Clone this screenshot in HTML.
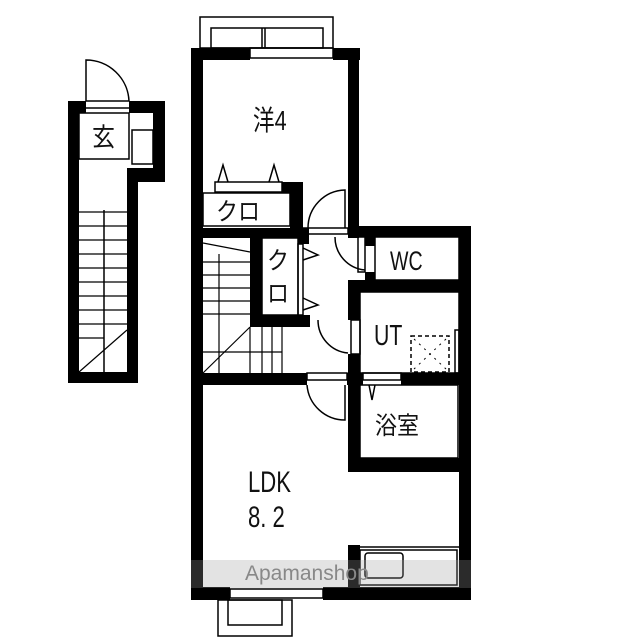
<!DOCTYPE html>
<html><head><meta charset="utf-8"><style>
html,body{margin:0;padding:0;background:#fff;}
svg{display:block;}
text{font-family:"Liberation Sans","Noto Sans CJK JP",sans-serif;fill:#111;}
</style></head><body>
<svg width="640" height="640" viewBox="0 0 640 640" xmlns="http://www.w3.org/2000/svg">
<rect width="640" height="640" fill="#fff"/>
<g fill="#000">
<rect x="68" y="101" width="11" height="282"/>
<rect x="68" y="101" width="18" height="12"/>
<rect x="129" y="101" width="36" height="12"/>
<rect x="153" y="101" width="12" height="81"/>
<rect x="127" y="168" width="38" height="14"/>
<rect x="127" y="168" width="11" height="215"/>
<rect x="68" y="372" width="70" height="11"/>
<rect x="191" y="48" width="12" height="552"/>
<rect x="191" y="48" width="59" height="12"/>
<rect x="333" y="48" width="27" height="12"/>
<rect x="348" y="48" width="11" height="190"/>
<rect x="191" y="182" width="11" height="11"/>
<rect x="282" y="182" width="21" height="11"/>
<rect x="290" y="182" width="13" height="56"/>
<rect x="191" y="228" width="112" height="10"/>
<rect x="348" y="226" width="122" height="11"/>
<rect x="459" y="226" width="12" height="374"/>
<rect x="250" y="228" width="12" height="99"/>
<rect x="298" y="228" width="11" height="16"/>
<rect x="250" y="315" width="60" height="12"/>
<rect x="365" y="236" width="10" height="10"/>
<rect x="365" y="272" width="10" height="20"/>
<rect x="348" y="280" width="122" height="12"/>
<rect x="348" y="280" width="12" height="40"/>
<rect x="348" y="354" width="12" height="118"/>
<rect x="191" y="373" width="116" height="12"/>
<rect x="347" y="373" width="16" height="12"/>
<rect x="401" y="373" width="70" height="12"/>
<rect x="348" y="458" width="122" height="14"/>
<rect x="191" y="587" width="39" height="13"/>
<rect x="323" y="587" width="148" height="13"/>
<rect x="348" y="545" width="12" height="45"/>
</g>
<g fill="none" stroke="#000" stroke-width="1.5">
<line x1="86" y1="101" x2="129" y2="101"/><line x1="86" y1="108" x2="129" y2="108"/>
<path d="M86 101 V60 A43 43 0 0 1 129 101"/>
<rect x="79" y="113" width="50" height="46"/>
<rect x="132" y="130" width="21" height="34"/>
<line x1="104" y1="210" x2="104" y2="372"/>
<g stroke-width="1.2">
<line x1="79" y1="212" x2="127" y2="212"/><line x1="79" y1="226" x2="127" y2="226"/><line x1="79" y1="240" x2="127" y2="240"/><line x1="79" y1="254" x2="127" y2="254"/><line x1="79" y1="268" x2="127" y2="268"/><line x1="79" y1="282" x2="127" y2="282"/><line x1="79" y1="296" x2="127" y2="296"/><line x1="79" y1="310" x2="127" y2="310"/><line x1="79" y1="324" x2="127" y2="324"/><line x1="79" y1="338" x2="104" y2="338"/>
<line x1="79" y1="372" x2="127" y2="330"/>
</g>
<rect x="200" y="17" width="133" height="31"/>
<rect x="211" y="28" width="112" height="20"/>
<line x1="262" y1="28" x2="262" y2="48"/><line x1="265" y1="28" x2="265" y2="48"/>
<rect x="250" y="48" width="83" height="10"/>
<rect x="215" y="182" width="67" height="10"/>
<path d="M218 182 L223 165 L228 182 M269 182 L274 165 L279 182"/>
<rect x="203" y="193" width="87" height="33"/>
<rect x="303" y="228" width="45" height="6"/>
<path d="M308 228 A38 38 0 0 1 345 190 V228"/>
<rect x="262" y="238" width="36" height="77"/>
<rect x="298" y="244" width="5" height="71"/>
<path d="M303 248 L318 255 L303 260 M303 298 L318 305 L303 310"/>
<path d="M335 237 A33 33 0 0 0 365 270"/>
<rect x="358" y="237" width="7" height="35"/>
<rect x="375" y="237" width="84" height="43"/>
<path d="M318 320 A33 33 0 0 0 348 353"/>
<rect x="351" y="320" width="9" height="34"/>
<rect x="360" y="292" width="99" height="81"/>
<rect x="455" y="330" width="4" height="43"/>
<rect x="411" y="336" width="38" height="36" stroke-dasharray="4 3"/>
<path d="M414 339 L446 369 M446 339 L414 369" stroke-dasharray="2 5" stroke-width="1"/>
<g stroke-width="1.2">
<line x1="203" y1="243" x2="250" y2="252"/>
<line x1="219" y1="254" x2="219" y2="373"/>
<line x1="203" y1="262" x2="250" y2="262"/><line x1="203" y1="275" x2="250" y2="275"/><line x1="203" y1="288" x2="250" y2="288"/><line x1="203" y1="301" x2="250" y2="301"/><line x1="203" y1="314" x2="250" y2="314"/>
<line x1="203" y1="373" x2="250" y2="327"/>
<line x1="250" y1="327" x2="250" y2="373"/><line x1="262" y1="327" x2="262" y2="373"/><line x1="272" y1="327" x2="272" y2="373"/><line x1="282" y1="327" x2="282" y2="373"/>
<line x1="203" y1="352" x2="282" y2="352"/>
</g>
<rect x="307" y="373" width="40" height="7"/>
<path d="M307 385 A38 38 0 0 0 345 420 V385"/>
<rect x="363" y="373" width="38" height="7"/>
<path d="M369 385 L372 400 L375 385"/>
<rect x="360" y="385" width="98" height="73"/>
<line x1="360" y1="547" x2="459" y2="547"/>
<rect x="360" y="550" width="97" height="35"/>
<rect x="365" y="553" width="38" height="25" rx="3"/>
<rect x="230" y="589" width="93" height="9"/>
<rect x="218" y="600" width="74" height="36"/>
<rect x="228" y="600" width="54" height="25"/>
</g>
<rect x="191" y="560" width="280" height="28" fill="#999" opacity="0.28"/>
<text x="245" y="580" font-size="21" style="fill:#888">Apamanshop</text>
<text transform="translate(92,146) scale(1,1.1)" font-size="23">玄</text>
<text transform="translate(253,130) scale(0.9,1.15)" font-size="24">洋4</text>
<text transform="translate(216,220) scale(1,1.1)" font-size="22">クロ</text>
<text transform="translate(267,269) scale(1,1.1)" font-size="22">ク</text>
<text transform="translate(267,302) scale(1,1.1)" font-size="22">ロ</text>
<text transform="translate(390,270) scale(0.85,1.15)" font-size="23">WC</text>
<text transform="translate(374,345) scale(0.85,1.15)" font-size="25">UT</text>
<text transform="translate(375,434) scale(1,1.1)" font-size="22">浴室</text>
<text transform="translate(248,492) scale(0.85,1.15)" font-size="26">LDK</text>
<text transform="translate(248,527) scale(0.85,1.15)" font-size="26">8. 2</text>
</svg>
</body></html>
